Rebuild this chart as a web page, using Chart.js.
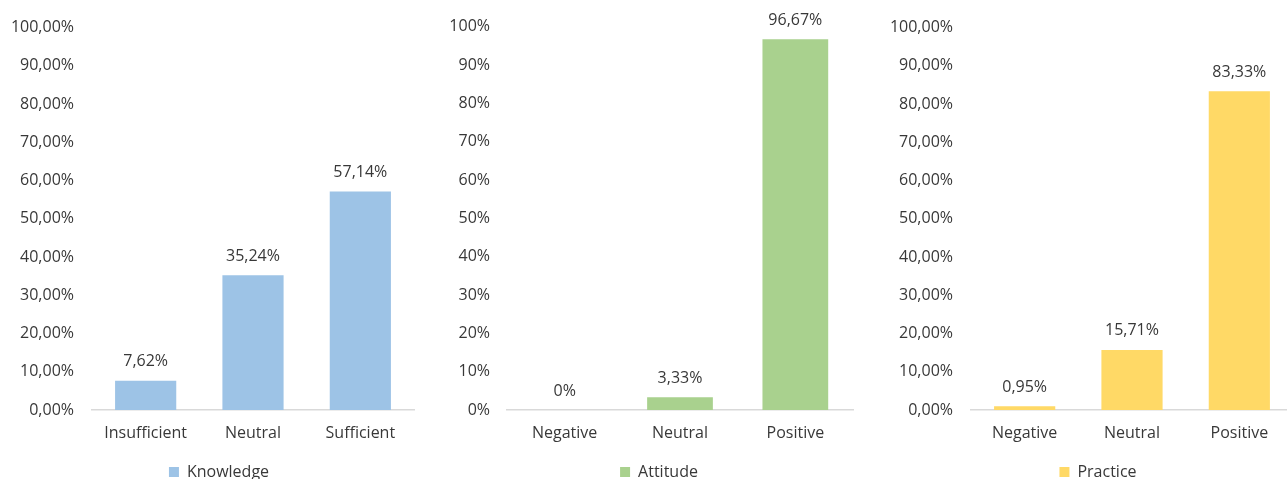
<!DOCTYPE html>
<html>
<head>
<meta charset="utf-8">
<script src="https://cdn.jsdelivr.net/npm/chart.js@4.4.1/dist/chart.umd.min.js"></script>
<style>
  html, body { margin:0; padding:0; background:#fff; overflow:hidden; width:1287px; height:479px; }
  .box { position:absolute; top:0; height:490px; }
</style>
</head>
<body>
<div class="box" id="b1" style="left:0px;width:438px;"><canvas id="c1"></canvas></div>
<div class="box" id="b2" style="left:445px;width:428px;"><canvas id="c2"></canvas></div>
<div class="box" id="b3" style="left:880px;width:436px;"><canvas id="c3"></canvas></div>
<script>
// ---- data ----
const knowledgeCategories = ["Insufficient", "Neutral", "Sufficient"];
const knowledgeValues = [7.62, 35.24, 57.14];
const attitudeCategories = ["Negative", "Neutral", "Positive"];
const attitudeValues = [0, 3.33, 96.67];
const practiceCategories = ["Negative", "Neutral", "Positive"];
const practiceValues = [0.95, 15.71, 83.33];
const tickValues = [0, 10, 20, 30, 40, 50, 60, 70, 80, 90, 100];

const TEXT = "#383838";
const FONT = "'Open Sans', 'Noto Sans', sans-serif";
const FS = 16;

function fmt(v, decimals) {
  if (v === 0) return "0%";
  return v.toFixed(decimals).replace(".", ",") + "%";
}
function tickFmt(v, decimals) {
  return v.toFixed(decimals).replace(".", ",") + "%";
}

const valueLabels = {
  id: "valueLabels",
  afterDatasetsDraw(chart) {
    const ctx = chart.ctx;
    const ds = chart.data.datasets[0];
    const meta = chart.getDatasetMeta(0);
    ctx.save();
    ctx.font = FS + "px " + FONT;
    ctx.fillStyle = TEXT;
    ctx.textAlign = "center";
    ctx.textBaseline = "middle";
    meta.data.forEach((bar, i) => {
      ctx.fillText(fmt(ds.data[i], 2), bar.x, bar.y - 19);
    });
    ctx.restore();
  }
};

function makeChart(id, label, cats, vals, color, yWidth, tickPad, padRight, tickDecimals) {
  return new Chart(document.getElementById(id), {
    type: "bar",
    data: {
      labels: cats,
      datasets: [{
        label: label,
        data: vals,
        backgroundColor: color,
        borderWidth: 0,
        categoryPercentage: 1,
        barPercentage: 0.57
      }]
    },
    options: {
      responsive: true,
      maintainAspectRatio: false,
      animation: false,
      layout: { padding: { top: 25, right: 0, bottom: 0, left: 0 } },
      plugins: {
        legend: {
          position: "bottom",
          labels: {
            boxWidth: 10, boxHeight: 10, padding: 0,
            color: TEXT,
            font: { family: FONT, size: FS }
          }
        },
        tooltip: { enabled: false }
      },
      scales: {
        x: {
          grid: { display: false, drawTicks: false },
          border: { display: true, color: "#d9d9d9", width: 1.5 },
          ticks: { color: TEXT, font: { family: FONT, size: FS }, padding: 14 },
          afterFit(s) { s.height = 54; }
        },
        y: {
          min: 0, max: 100,
          grid: { display: false, drawTicks: false },
          border: { display: false },
          afterBuildTicks(s) { s.ticks = tickValues.map(v => ({ value: v })); },
          ticks: {
            color: TEXT, font: { family: FONT, size: FS }, padding: tickPad,
            callback: (v) => tickFmt(v, tickDecimals)
          },
          afterFit(s) { s.width = yWidth; }
        },
        yRight: {
          position: "right",
          min: 0, max: 100,
          grid: { display: false, drawTicks: false },
          border: { display: false },
          ticks: { display: false },
          afterFit(s) { s.width = padRight; }
        }
      }
    },
    plugins: [valueLabels]
  });
}

makeChart("c1", "Knowledge", knowledgeCategories, knowledgeValues, "#9DC3E6", 92, 18, 24, 2);
makeChart("c2", "Attitude", attitudeCategories, attitudeValues, "#A9D18E", 62, 17, 20, 0);
makeChart("c3", "Practice", practiceCategories, practiceValues, "#FFD966", 91, 18, 23, 2);
</script>
</body>
</html>
